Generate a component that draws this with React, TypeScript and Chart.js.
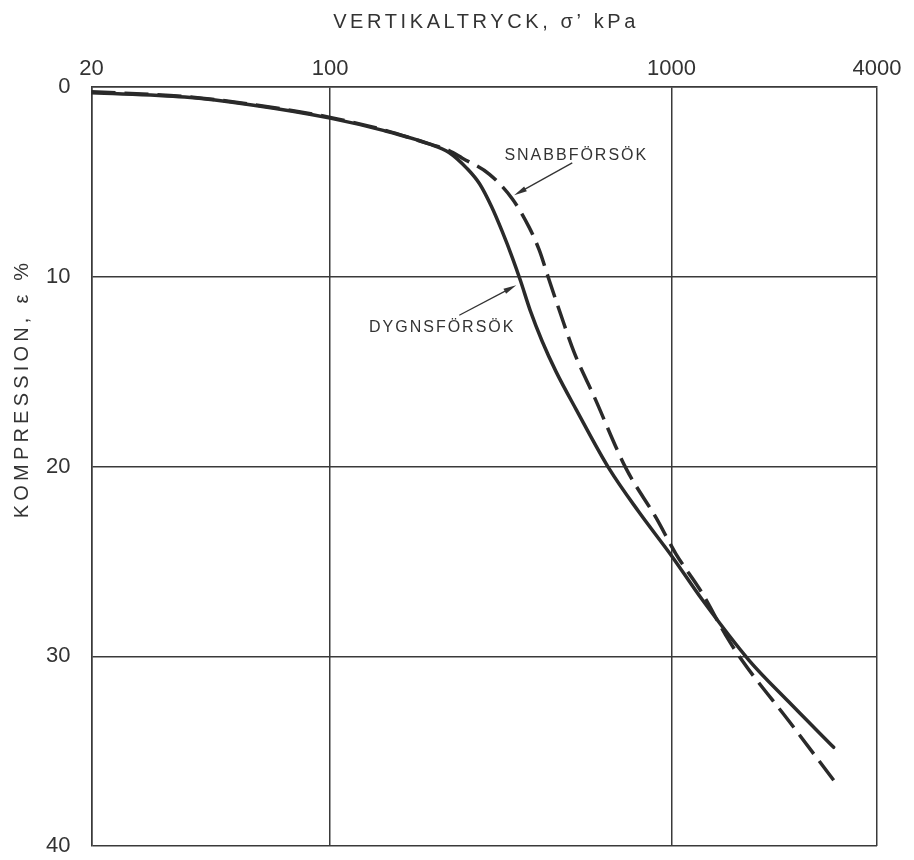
import React, { useEffect, useRef } from "react";
import { Chart, registerables } from "chart.js";

Chart.register(...registerables);

// ---- data ----
const xTickValues = [20, 100, 1000, 4000];
const yTickValues = [0, 10, 20, 30, 40];

const xTitle = "VERTIKALTRYCK, σ’ kPa";
const yTitle = "KOMPRESSION, ε %";

// DYGNSFÖRSÖK (solid)
const dygnsStress = [20, 37.5, 59, 100, 144, 195, 223, 252, 274, 297, 319, 342, 361, 386, 418, 459, 526, 656, 803, 1000, 1228, 1685, 2205, 2986];
const dygnsStrain = [0.3, 0.53, 0.95, 1.64, 2.3, 3.0, 3.45, 4.3, 5.1, 6.3, 7.6, 9.0, 10.2, 11.8, 13.4, 15.0, 17.0, 20.1, 22.4, 24.7, 27.0, 30.2, 32.4, 34.8];

// SNABBFÖRSÖK (dashed)
const snabbStress = [20, 37.5, 59, 100, 144, 195, 223, 244, 293, 342, 383, 410, 435, 472, 519, 593, 736, 901, 1030, 1223, 1443, 1607, 2205, 3006];
const snabbStrain = [0.25, 0.5, 0.92, 1.6, 2.27, 3.0, 3.35, 3.75, 4.6, 5.9, 7.4, 8.6, 10.0, 11.9, 14.0, 16.3, 20.1, 22.7, 24.6, 26.6, 28.9, 30.2, 33.4, 36.6];

// annotations (data coordinates: stress, strain)
const annotationLabels = ["SNABBFÖRSÖK", "DYGNSFÖRSÖK"];
const annotationTextAt = [[324, 3.64], [130, 12.66]];
const annotationArrowFrom = [[512, 4.0], [239, 12.03]];
const annotationArrowTo = [[346, 5.7], [351, 10.45]];

const LINE = "#2a2a2a";
const GRID = "#3a3a3a";
const TEXT = "#333333";
const FONT = '"Liberation Sans", Arial, sans-serif';

const toPoints = (xs: number[], ys: number[]) => xs.map((x, i) => ({ x, y: ys[i] }));

const textPlugin = {
  id: "customText",
  afterDraw(chart: any) {
    const ctx: CanvasRenderingContext2D = chart.ctx;
    const { left, right, top, bottom } = chart.chartArea;
    const xs = chart.scales.x;
    const ys = chart.scales.y;
    ctx.save();
    ctx.fillStyle = TEXT;
    ctx.strokeStyle = TEXT;
    // x title
    ctx.font = `20px ${FONT}`;
    (ctx as any).letterSpacing = "3.6px";
    ctx.textAlign = "center";
    ctx.textBaseline = "middle";
    ctx.fillText(xTitle, (left + right) / 2 + 1.8, 22);
    // y title
    ctx.save();
    (ctx as any).letterSpacing = "4.2px";
    ctx.translate(22, top + (bottom - top) * 0.4);
    ctx.rotate(-Math.PI / 2);
    ctx.fillText(yTitle, 2.1, 0);
    ctx.restore();

    // annotations
    ctx.font = `16px ${FONT}`;
    (ctx as any).letterSpacing = "2px";
    ctx.textAlign = "left";
    ctx.textBaseline = "middle";
    annotationLabels.forEach((label, i) => {
      const tx = xs.getPixelForValue(annotationTextAt[i][0]);
      const ty = ys.getPixelForValue(annotationTextAt[i][1]);
      ctx.fillText(label, tx, ty);
      const x0 = xs.getPixelForValue(annotationArrowFrom[i][0]);
      const y0 = ys.getPixelForValue(annotationArrowFrom[i][1]);
      const x1 = xs.getPixelForValue(annotationArrowTo[i][0]);
      const y1 = ys.getPixelForValue(annotationArrowTo[i][1]);
      const ang = Math.atan2(y1 - y0, x1 - x0);
      const headLen = 13;
      const headW = 2.8;
      ctx.lineWidth = 1.3;
      ctx.beginPath();
      ctx.moveTo(x0, y0);
      ctx.lineTo(x1 - Math.cos(ang) * headLen * 0.8, y1 - Math.sin(ang) * headLen * 0.8);
      ctx.stroke();
      ctx.beginPath();
      ctx.moveTo(x1, y1);
      ctx.lineTo(
        x1 - Math.cos(ang) * headLen - Math.sin(ang) * headW,
        y1 - Math.sin(ang) * headLen + Math.cos(ang) * headW
      );
      ctx.lineTo(
        x1 - Math.cos(ang) * headLen + Math.sin(ang) * headW,
        y1 - Math.sin(ang) * headLen - Math.cos(ang) * headW
      );
      ctx.closePath();
      ctx.fill();
    });
    ctx.restore();
  },
};

export default function App() {
  const canvasRef = useRef<HTMLCanvasElement | null>(null);

  useEffect(() => {
    document.body.style.margin = "0";
    document.body.style.background = "#ffffff";
    const canvas = canvasRef.current;
    if (!canvas) return;
    const chart = new Chart(canvas, {
      type: "scatter",
      data: {
        datasets: [
          {
            label: "DYGNSFÖRSÖK",
            data: toPoints(dygnsStress, dygnsStrain),
            showLine: true,
            borderColor: LINE,
            borderWidth: 3.5,
            pointRadius: 0,
            cubicInterpolationMode: "monotone",
            borderCapStyle: "round",
          },
          {
            label: "SNABBFÖRSÖK",
            data: toPoints(snabbStress, snabbStrain),
            showLine: true,
            borderColor: LINE,
            borderWidth: 3.5,
            borderDash: [24, 9],
            pointRadius: 0,
            cubicInterpolationMode: "monotone",
            borderCapStyle: "butt",
          },
        ],
      },
      options: {
        responsive: false,
        animation: false,
        devicePixelRatio: 1,
        layout: { padding: { left: 0, right: 37, top: 0, bottom: 14 } },
        plugins: {
          legend: { display: false },
          tooltip: { enabled: false },
        },
        scales: {
          x: {
            type: "logarithmic",
            position: "top",
            min: 20,
            max: 4000,
            afterBuildTicks: (scale: any) => {
              scale.ticks = xTickValues.map((v) => ({ value: v }));
            },
            afterFit: (scale: any) => {
              scale.height = 87;
              scale.paddingLeft = 0;
              scale.paddingRight = 0;
              scale.paddingTop = 0;
              scale.paddingBottom = 0;
            },
            grid: { color: GRID, lineWidth: 1.5, drawTicks: false },
            border: { display: true, color: GRID, width: 1.5 },
            ticks: {
              autoSkip: false,
              maxRotation: 0,
              padding: 5,
              color: TEXT,
              font: { family: FONT, size: 22 },
              callback: (v: any) => String(v),
            },
          },
          y: {
            type: "linear",
            reverse: true,
            min: 0,
            max: 40,
            afterBuildTicks: (scale: any) => {
              scale.ticks = yTickValues.map((v) => ({ value: v }));
            },
            afterFit: (scale: any) => {
              scale.width = 91.5;
              scale.paddingLeft = 0;
              scale.paddingRight = 0;
              scale.paddingTop = 0;
              scale.paddingBottom = 0;
            },
            grid: { color: GRID, lineWidth: 1.5, drawTicks: false },
            border: { display: true, color: GRID, width: 1.5 },
            ticks: {
              padding: 21,
              color: TEXT,
              font: { family: FONT, size: 22 },
              callback: (v: any) => String(v),
            },
          },
        },
      },
      plugins: [textPlugin],
    } as any);
    return () => chart.destroy();
  }, []);

  return (
    <div style={{ width: 914, height: 860, background: "#ffffff" }}>
      <canvas ref={canvasRef} width={914} height={860} style={{ display: "block" }} />
    </div>
  );
}
